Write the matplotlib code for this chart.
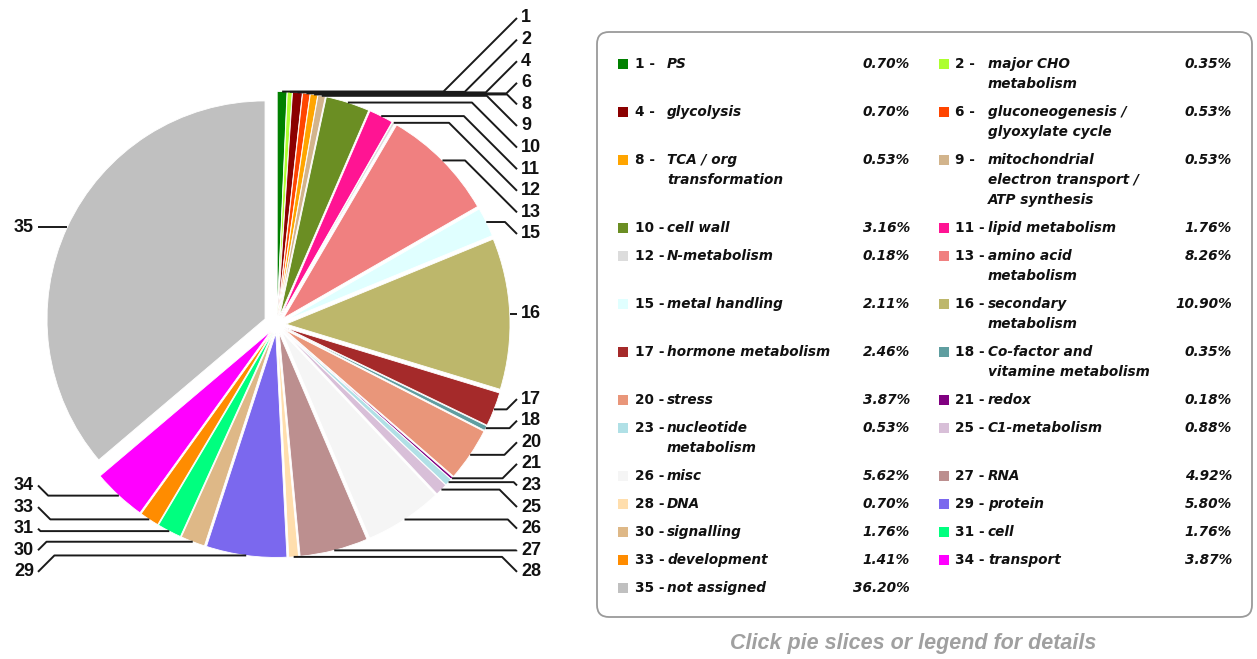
import matplotlib.pyplot as plt
from matplotlib.patches import FancyBboxPatch
import numpy as np

# categories (slice order, clockwise from 12 o'clock)
ids = [1, 2, 4, 6, 8, 9, 10, 11, 12, 13, 15, 16, 17, 18, 20, 21, 23, 25, 26, 27,
       28, 29, 30, 31, 33, 34, 35]
names = ['PS', 'major CHO\nmetabolism', 'glycolysis', 'gluconeogenesis /\nglyoxylate cycle',
         'TCA / org\ntransformation', 'mitochondrial\nelectron transport /\nATP synthesis',
         'cell wall', 'lipid metabolism', 'N-metabolism', 'amino acid\nmetabolism',
         'metal handling', 'secondary\nmetabolism', 'hormone metabolism',
         'Co-factor and\nvitamine metabolism', 'stress', 'redox', 'nucleotide\nmetabolism',
         'C1-metabolism', 'misc', 'RNA', 'DNA', 'protein', 'signalling', 'cell',
         'development', 'transport', 'not assigned']
percent = [0.70, 0.35, 0.70, 0.53, 0.53, 0.53, 3.16, 1.76, 0.18, 8.26, 2.11, 10.90,
           2.46, 0.35, 3.87, 0.18, 0.53, 0.88, 5.62, 4.92, 0.70, 5.80, 1.76, 1.76,
           1.41, 3.87, 36.20]
colors = ['#008000', '#ADFF2F', '#8B0000', '#FF4500', '#FFA500', '#D2B48C', '#6B8E23',
          '#FF1493', '#DCDCDC', '#F08080', '#E0FFFF', '#BDB76B', '#A52A2A', '#5F9EA0',
          '#E9967A', '#800080', '#B0E0E6', '#D8BFD8', '#F5F5F5', '#BC8F8F', '#FFDEAD',
          '#7B68EE', '#DEB887', '#00FF7F', '#FF8C00', '#FF00FF', '#C0C0C0']

W, H = 1257, 659


def Y(py):
    return H - py


fig = plt.figure(figsize=(W / 100, H / 100), dpi=100)
ax = fig.add_axes([0, 0, 1, 1])

# pie (explode is in data units = pixels here)
cx, cy, R = 277, 324.5, 224
explode = [9] * len(percent)
explode[-1] = 13.2
wedges, _ = ax.pie(percent, colors=colors, startangle=90, counterclock=False,
                   radius=R, center=(cx, Y(cy)), explode=explode,
                   wedgeprops=dict(edgecolor='white', linewidth=0.6))
# the big "not assigned" slice is pulled out and drawn a bit smaller
wedges[-1].set_radius(218)
ax.set_xlim(0, W)
ax.set_ylim(0, H)
ax.set_aspect('equal')
ax.axis('off')


def spread(desired, gap, top):
    # group overlapping labels into clusters centred on their anchors
    clusters = [[d] for d in desired]
    while True:
        pos = []
        for c in clusters:
            m = np.mean(c)
            pos.append(m - gap * (len(c) - 1) / 2)
        pos[0] = max(pos[0], top)
        merged = False
        for i in range(len(clusters) - 1):
            if pos[i] + gap * len(clusters[i]) > pos[i + 1]:
                clusters[i] = clusters[i] + clusters[i + 1]
                del clusters[i + 1]
                merged = True
                break
        if not merged:
            break
    out = []
    for p, c in zip(pos, clusters):
        out += [p + gap * k for k in range(len(c))]
    return out


# anchors on the slices (pixel coords)
anchors = []
for w in wedges:
    a = np.deg2rad((w.theta1 + w.theta2) / 2)
    x = w.center[0] + w.r * np.cos(a)
    y = H - (w.center[1] + w.r * np.sin(a))
    anchors.append((x, y))

gap = 21.6
for side in ('right', 'left'):
    idx = [i for i, (x, y) in enumerate(anchors) if (x >= cx) == (side == 'right')]
    idx.sort(key=lambda i: anchors[i][1])
    ly = spread([anchors[i][1] for i in idx], gap, 18)
    for i, yy in zip(idx, ly):
        x0, y0 = anchors[i]
        if side == 'right':
            xe = 517
            xb = max(xe - abs(yy - y0), x0)
            tx, ha = 521, 'left'
        else:
            xe = 38
            xb = min(xe + abs(yy - y0), x0)
            tx, ha = 34, 'right'
        ax.plot([x0, xb, xe], [Y(y0), Y(y0), Y(yy)], color='#1a1a1a', lw=1.4,
                solid_capstyle='butt')
        ax.text(tx, Y(yy), str(ids[i]), ha=ha, va='center', fontsize=13,
                fontweight='bold', family='Liberation Sans', color='#111111')

# legend box
box = FancyBboxPatch((597, Y(617)), 655, 585, boxstyle='round,pad=0,rounding_size=12',
                     ec='#9a9a9a', fc='white', lw=1.3)
ax.add_patch(box)

lfont = dict(family='DejaVu Sans', fontweight='bold', fontsize=9.8, color='#111111')
cols = [(619, 635, 667, 910), (940, 955, 988, 1232)]
row_y = 64
for r in range(0, len(ids), 2):
    pair = list(range(r, min(r + 2, len(ids))))
    nlines = max(names[i].count('\n') + 1 for i in pair)
    for c, i in enumerate(pair):
        sx, nx, lx, px = cols[c]
        ax.add_patch(plt.Rectangle((sx - 1, Y(row_y) - 5), 10, 10, color=colors[i], lw=0))
        ax.text(nx, Y(row_y), f'{ids[i]} -', ha='left', va='center', **lfont)
        for k, line in enumerate(names[i].split('\n')):
            ax.text(lx, Y(row_y + 20 * k), line, ha='left', va='center',
                    style='oblique', **lfont)
        ax.text(px, Y(row_y), f'{percent[i]:.2f}%', ha='right', va='center',
                style='oblique', **lfont)
    row_y += 20 * nlines + 8

ax.text(913, Y(643), 'Click pie slices or legend for details', ha='center', va='center',
        family='Liberation Sans', fontsize=15.5, fontweight='bold', style='italic',
        color='#a0a0a0')

fig.savefig('out.png', dpi=100)
